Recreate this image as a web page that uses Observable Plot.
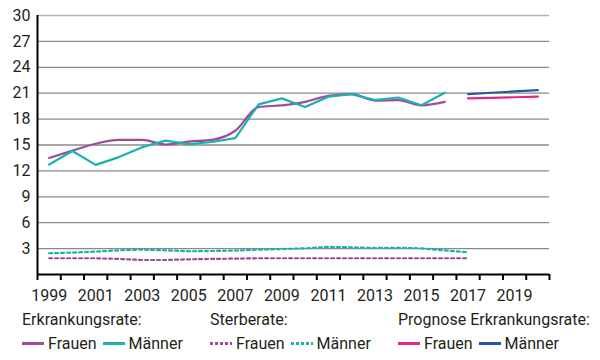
<!DOCTYPE html>
<html><head><meta charset="utf-8">
<script src="https://cdn.jsdelivr.net/npm/d3@7"></script>
<script src="https://cdn.jsdelivr.net/npm/@observablehq/plot@0.6"></script>
<style>
body{margin:0;background:#fff;font-family:Roboto,sans-serif;color:#231f20;}
#chart{position:relative;width:600px;height:360px;overflow:hidden;}
#chart svg{display:block;}
.leg{position:absolute;top:310px;font-size:16px;white-space:nowrap;}
.leg .t{height:19px;line-height:19px;}
.leg .r{display:flex;align-items:center;margin-top:5px;height:19px;}
.sw{display:inline-block;width:22px;height:3px;margin-right:4px;}
.r span.lab{margin-right:6px;}
</style>
</head><body>
<div id="chart"></div>
<script>
const years = [1999,2000,2001,2002,2003,2004,2005,2006,2007,2008,2009,2010,2011,2012,2013,2014,2015,2016];
const frauenErk = [13.5,14.35,15.15,15.6,15.6,15.06,15.4,15.6,16.65,19.4,19.6,20.0,20.7,20.9,20.15,20.2,19.6,20.0];
const maennerErk = [12.74,14.3,12.7,13.6,14.75,15.5,15.1,15.35,15.8,19.7,20.4,19.4,20.6,20.9,20.2,20.5,19.6,21.05];
const sterbeYears = [1999,2000,2001,2002,2003,2004,2005,2006,2007,2008,2009,2010,2011,2012,2013,2014,2015,2016,2017];
const frauenSterbe = [1.88,1.88,1.88,1.8,1.68,1.68,1.76,1.8,1.84,1.88,1.88,1.88,1.88,1.88,1.88,1.88,1.88,1.88,1.88];
const maennerSterbe = [2.46,2.54,2.65,2.8,2.88,2.8,2.69,2.72,2.77,2.88,2.95,3.03,3.2,3.15,3.07,3.1,3.03,2.8,2.57];
const progYears = [2017,2018,2019,2020];
const progFrauen = [20.4,20.47,20.53,20.6];
const progMaenner = [20.9,21.05,21.2,21.35];
const yTicks = [3,6,9,12,15,18,21,24,27,30];
const xLabels = [1999,2001,2003,2005,2007,2009,2011,2013,2015,2017,2019];
const xTickMarks = [1998.5,1999.5,2000.5,2001.5,2002.5,2003.5,2004.5,2005.5,2006.5,2007.5,2008.5,2009.5,2010.5,2011.5,2012.5,2013.5,2014.5,2015.5,2016.5,2017.5,2018.5,2019.5,2020.5];

const C = {frauen:"#a04a9c", maenner:"#19b2ad", progF:"#e5287e", progM:"#2458a6"};

const erk = years.map((y,i)=>({year:y, f:frauenErk[i], m:maennerErk[i]}));
const ster = sterbeYears.map((y,i)=>({year:y, f:frauenSterbe[i], m:maennerSterbe[i]}));
const prog = progYears.map((y,i)=>({year:y, f:progFrauen[i], m:progMaenner[i]}));

const plot = Plot.plot({
  width:600, height:310,
  marginLeft:37, marginRight:51, marginTop:15, marginBottom:36,
  style:{fontFamily:"Roboto, sans-serif", color:"#231f20", background:"#fff"},
  x:{type:"linear", domain:[1998.5,2020.5]},
  y:{domain:[0,30]},
  marks:[
    Plot.ruleY(yTicks.filter(d=>d<30), {stroke:"#8a8a8a", strokeWidth:1.3}),
    Plot.ruleY(yTicks.filter(d=>d===30), {stroke:"#b4b4b4", strokeWidth:1.3}),
    Plot.axisY({ticks:yTicks, tickSize:0, tickPadding:7, fontSize:16, label:null}),
    Plot.axisX({ticks:xTickMarks, tickSize:6, tickFormat:()=>"", stroke:"#000", strokeWidth:2, label:null}),
    Plot.axisX({ticks:xLabels, tickSize:0, tickPadding:15, tickFormat:d=>String(d), fontSize:16, label:null}),
    Plot.lineY(ster, {x:"year", y:"f", stroke:C.frauen, strokeWidth:2.2, strokeDasharray:"3,3"}),
    Plot.lineY(ster, {x:"year", y:"m", stroke:C.maenner, strokeWidth:2.2, strokeDasharray:"3,3"}),
    Plot.lineY(erk, {x:"year", y:"f", stroke:C.frauen, strokeWidth:2.2, curve:"monotone-x"}),
    Plot.lineY(erk, {x:"year", y:"m", stroke:C.maenner, strokeWidth:2.2}),
    Plot.lineY(prog, {x:"year", y:"f", stroke:C.progF, strokeWidth:2.2}),
    Plot.lineY(prog, {x:"year", y:"m", stroke:C.progM, strokeWidth:2.2}),
    Plot.ruleY([0], {stroke:"#000", strokeWidth:2}),
    Plot.ruleX([1998.5], {stroke:"#000", strokeWidth:2})
  ]
});
const chart = document.getElementById("chart");
chart.appendChild(plot);

const groups = [
  {left:22, title:"Erkrankungsrate:", items:[["Frauen",C.frauen,false],["Männer",C.maenner,false]]},
  {left:210, title:"Sterberate:", items:[["Frauen",C.frauen,true],["Männer",C.maenner,true]]},
  {left:398, title:"Prognose Erkrankungsrate:", items:[["Frauen",C.progF,false],["Männer",C.progM,false]]}
];
for (const g of groups) {
  const div = document.createElement("div");
  div.className = "leg";
  div.style.left = g.left + "px";
  const t = document.createElement("div"); t.className="t"; t.textContent = g.title; div.appendChild(t);
  const r = document.createElement("div"); r.className="r";
  for (const [lab,col,dot] of g.items) {
    const sw = document.createElement("span"); sw.className="sw";
    sw.style.background = dot ? `repeating-linear-gradient(90deg, ${col} 0 3px, transparent 3px 5px)` : col;
    r.appendChild(sw);
    const s = document.createElement("span"); s.className="lab"; s.textContent = lab; r.appendChild(s);
  }
  div.appendChild(r);
  chart.appendChild(div);
}
</script>
</body></html>
